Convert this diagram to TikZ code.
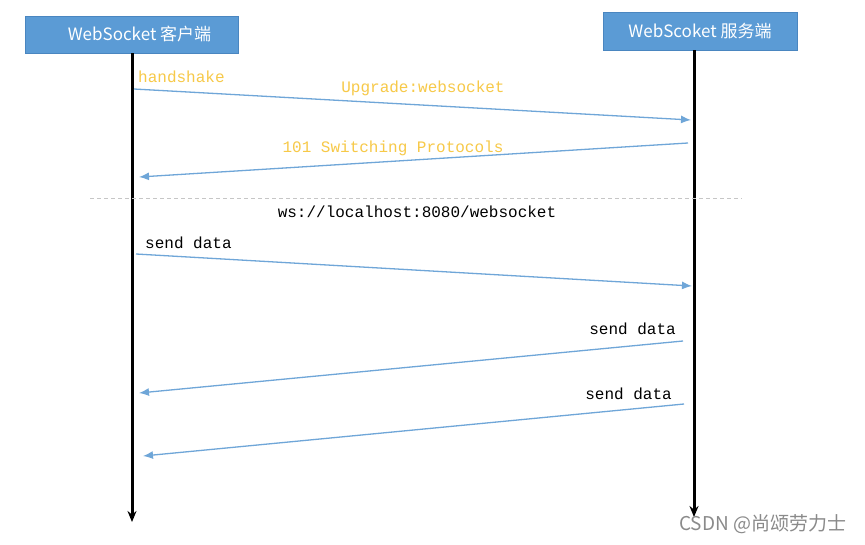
\documentclass[tikz,border=0pt]{standalone}
\usepackage{fontspec}
\setmainfont{Carlito}
\newfontfamily\cjk{Noto Sans CJK SC}
\newfontfamily\mono{Liberation Mono}
\usetikzlibrary{arrows.meta}
\definecolor{boxblue}{HTML}{5B9BD5}
\definecolor{boxedge}{HTML}{4A86C0}
\definecolor{msgblue}{HTML}{6FA6D8}
\definecolor{hsyellow}{HTML}{F7C948}
\definecolor{wmgray}{HTML}{8A8A8A}
\tikzset{
  actor/.style={draw=boxedge, fill=boxblue, text=white, inner sep=0pt, font=\cjk\fontsize{17}{19}\selectfont},
  lifeline/.style={line width=3pt, -{Stealth[length=11pt,width=9pt]}},
  msg/.style={msgblue, line width=1.3pt, -{Latex[length=10pt,width=8pt]}},
  mlabel/.style={font=\mono\fontsize{16}{18}\selectfont, inner sep=0pt},
  hlabel/.style={mlabel, text=hsyellow},
}
\begin{document}
\begin{tikzpicture}[x=1pt,y=-1pt]
\useasboundingbox (0,0) rectangle (865,544);
\fill[white] (0,0) rectangle (865,544);
% actors
\node[actor, minimum width=213pt, minimum height=37pt] (cbox) at (131.5,34.5) {\hspace*{16pt}WebSocket 客户端};
\node[actor, minimum width=194pt, minimum height=38pt] (sbox) at (700,31) {WebScoket 服务端};
% lifelines
\coordinate (cl) at (132,53);
\coordinate (cend) at (132,522);
\coordinate (sl) at (694,50);
\coordinate (send) at (694,517);
\draw[lifeline] (cl) -- (cend);
\draw[lifeline] (sl) -- (send);
% message endpoints
\coordinate (m1a) at (134,89);  \coordinate (m1b) at (691,120);
\coordinate (m2a) at (688,143); \coordinate (m2b) at (139,177);
\coordinate (m3a) at (136,254); \coordinate (m3b) at (692,286);
\coordinate (m4a) at (683,341); \coordinate (m4b) at (139,393);
\coordinate (m5a) at (684,404); \coordinate (m5b) at (143,456);
\draw[msg] (m1a) -- (m1b);
\draw[msg] (m2a) -- (m2b);
\draw[msg] (m3a) -- (m3b);
\draw[msg] (m4a) -- (m4b);
\draw[msg] (m5a) -- (m5b);
% separator
\coordinate (dl) at (90,198);
\coordinate (dr) at (742,198);
\draw[gray!45, line width=0.8pt, dash pattern=on 4pt off 3pt] (dl) -- (dr);
% labels
\node[hlabel, anchor=west] (lhs) at (138,77) {handshake};
\node[hlabel] (lup) at (423,88) {Upgrade:websocket};
\node[hlabel] (l101) at (393,148) {101 Switching Protocols};
\node[mlabel] (lws) at (417,212) {ws://localhost:8080/websocket};
\node[mlabel, anchor=west] (ls1) at (145,243) {send data};
\node[mlabel, anchor=east] (ls2) at (676,329) {send data};
\node[mlabel, anchor=east] (ls3) at (672,394) {send data};
% watermark
\node[text=wmgray, font=\cjk\fontsize{19}{21}\selectfont, anchor=west, inner sep=0pt] (wm) at (679,524) {CSDN @尚颂劳力士};
\end{tikzpicture}
\end{document}
